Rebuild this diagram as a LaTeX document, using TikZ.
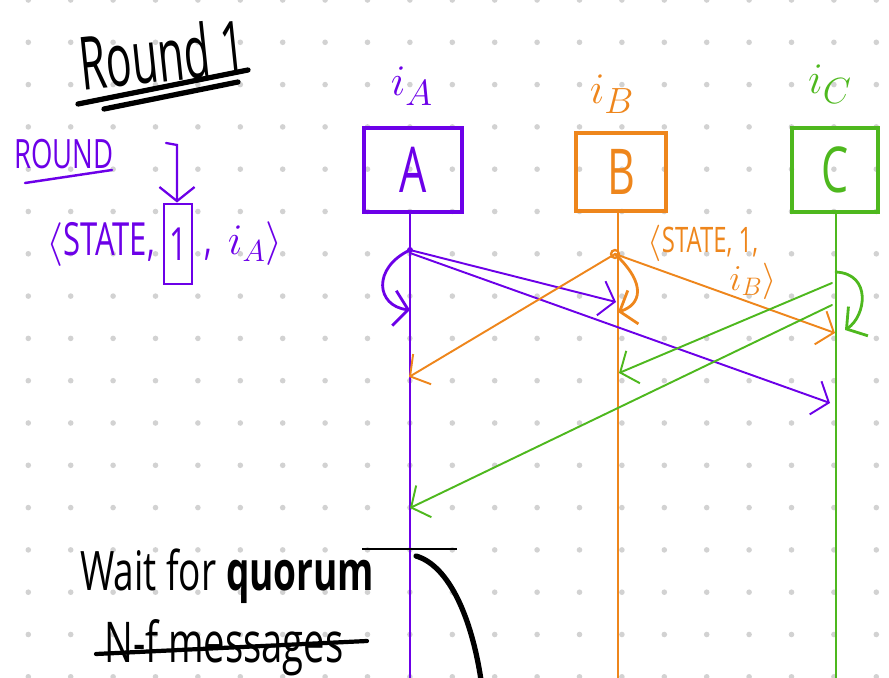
\documentclass[tikz,border=0pt]{standalone}
\usepackage{fontspec}
\setmainfont{Open Sans}
\newfontfamily\handfont[FakeStretch=0.68]{Open Sans}
\newfontfamily\titlefont[FakeStretch=0.58]{Open Sans}
\usetikzlibrary{arrows.meta, positioning, calc}
\definecolor{procA}{RGB}{108, 0, 232}
\definecolor{procB}{RGB}{238, 134, 28}
\definecolor{procC}{RGB}{78, 184, 30}

\tikzset{
  procbox/.style={draw, line width=2.3pt, font=\handfont\fontsize{36}{38}\selectfont},
  proclbl/.style={font=\handfont\fontsize{30}{32}\selectfont},
  lifeline/.style={line width=1.1pt},
  msg/.style={line width=1.1pt, line cap=round, ->},
  selfmsg/.style={line width=1.6pt, line cap=round, ->},
}

\begin{document}
\begin{tikzpicture}[x=0.02cm, y=-0.02cm, >={Straight Barb[length=8pt, width=20pt]}, font=\handfont]
  \useasboundingbox (0,0) rectangle (889,678);

  % Dot grid
  \foreach \i in {0,...,20}
    \foreach \j in {0,...,16}
      \fill[gray!35] (28.3+42.4*\i, 42.3*\j) circle (2.8);

  % Title
  \node[rotate=6] (title) at (162,54) {\titlefont\fontsize{42}{44}\selectfont Round 1};
  \draw[line width=3pt, line cap=round] (78,104) -- (248,70);
  \draw[line width=3pt, line cap=round] (104,109) -- (238,82);

  % Processes
  \node[procbox, procA, minimum width=56pt, minimum height=48pt] (A) at (413,170) {A};
  \node[procbox, procB, minimum width=51pt, minimum height=44pt] (B) at (621,172) {B};
  \node[procbox, procC, minimum width=49pt, minimum height=48pt] (C) at (835,170) {C};

  \node[proclbl, procA] (iA) at (412,86) {$i_A$};
  \node[proclbl, procB] (iB) at (612,94) {$i_B$};
  \node[proclbl, procC] (iC) at (830,84) {$i_C$};

  % Lifelines
  \coordinate (Aend) at (410,680);
  \coordinate (Bend) at (618,680);
  \coordinate (Cend) at (836,680);
  \draw[lifeline, procA] (A.south -| Aend) -- (Aend);
  \draw[lifeline, procB] (B.south -| Bend) -- (Bend);
  \draw[lifeline, procC] (C.south -| Cend) -- (Cend);

  % Points on the lifelines
  \coordinate (a0) at (410,250);
  \coordinate (a0b) at (410,253);
  \coordinate (a1) at (410,310);
  \coordinate (a2) at (409,377);
  \coordinate (a3) at (410,508);
  \coordinate (b0) at (615,254);
  \coordinate (b1) at (616,302);
  \coordinate (b1s) at (618,312);
  \coordinate (b2) at (619,373);
  \coordinate (c0) at (836,272);
  \coordinate (c0b) at (832,283);
  \coordinate (c0c) at (832,305);
  \coordinate (c1) at (835,333);
  \coordinate (c1s) at (845,330);
  \coordinate (c2) at (830,403);

  % Messages of A
  \fill[procA] (a0) circle (3);
  \draw[msg, procA] (a0) -- (b1);
  \draw[msg, procA] (a0b) -- (c2);
  \draw[selfmsg, procA] (a0) .. controls (372,268) and (376,306) .. (a1);

  % Messages of B
  \draw[procB, line width=1.3pt] (b0) circle (4);
  \draw[msg, procB] (b0) -- (a2);
  \draw[msg, procB] (b0) -- (c1);
  \draw[selfmsg, procB] (b0) .. controls (648,285) and (640,305) .. (b1s);
  \node[procB, font=\handfont\fontsize{20}{22}\selectfont] (msgB) at (703,243) {$\langle$STATE, 1,};
  \node[procB, font=\handfont\fontsize{20}{22}\selectfont] (msgBi) at (753,281) {$i_B\rangle$};

  % Messages of C
  \draw[msg, procC] (c0b) -- (b2);
  \draw[msg, procC] (c0c) -- (a3);
  \draw[selfmsg, procC] (c0) .. controls (872,274) and (866,316) .. (c1s);

  % Message format
  \node[procA] (roundlbl) at (64,154) {\fontsize{23}{25}\selectfont ROUND};
  \draw[procA, line width=1.4pt, line cap=round] (25,183) -- (112,170);
  \node[procA, anchor=east, font=\handfont\fontsize{26}{28}\selectfont] (tupL) at (161,244) {$\langle$STATE,};
  \node[procA, draw, line width=1.2pt, inner sep=3pt, minimum height=46pt, right=1pt of tupL, font=\handfont\fontsize{26}{28}\selectfont] (one) {1};
  \node[procA, right=3pt of one, font=\handfont\fontsize{26}{28}\selectfont] (tupR) {, \,$i_A\rangle$};
  \coordinate (rndhook) at (166,143);
  \coordinate (rndtop) at (177,145);
  \draw[procA, line width=1.3pt, line cap=round, ->] (rndhook) -- (rndtop) -- (rndtop |- one.north);

  % Quorum
  \coordinate (q1) at (362,549);
  \coordinate (q2) at (457,549);
  \coordinate (q3) at (416,556);
  \coordinate (q4) at (481,680);
  \draw[line width=0.8pt] (q1) -- (q2);
  \draw[line width=3pt, line cap=round] (q3) .. controls (450,566) and (472,620) .. (q4);
  \node[anchor=base west, font=\handfont\fontsize{31}{33}\selectfont] (wait) at (74,590) {Wait for \textbf{quorum}};
  \node[anchor=base west, font=\handfont\fontsize{32}{34}\selectfont] (nf) at (98,662) {N-f messages};
  \coordinate (strikeL) at (96,654);
  \coordinate (strikeR) at (367,641);
  \draw[line width=2.4pt, line cap=round] (strikeL) -- (strikeR);
\end{tikzpicture}
\end{document}
